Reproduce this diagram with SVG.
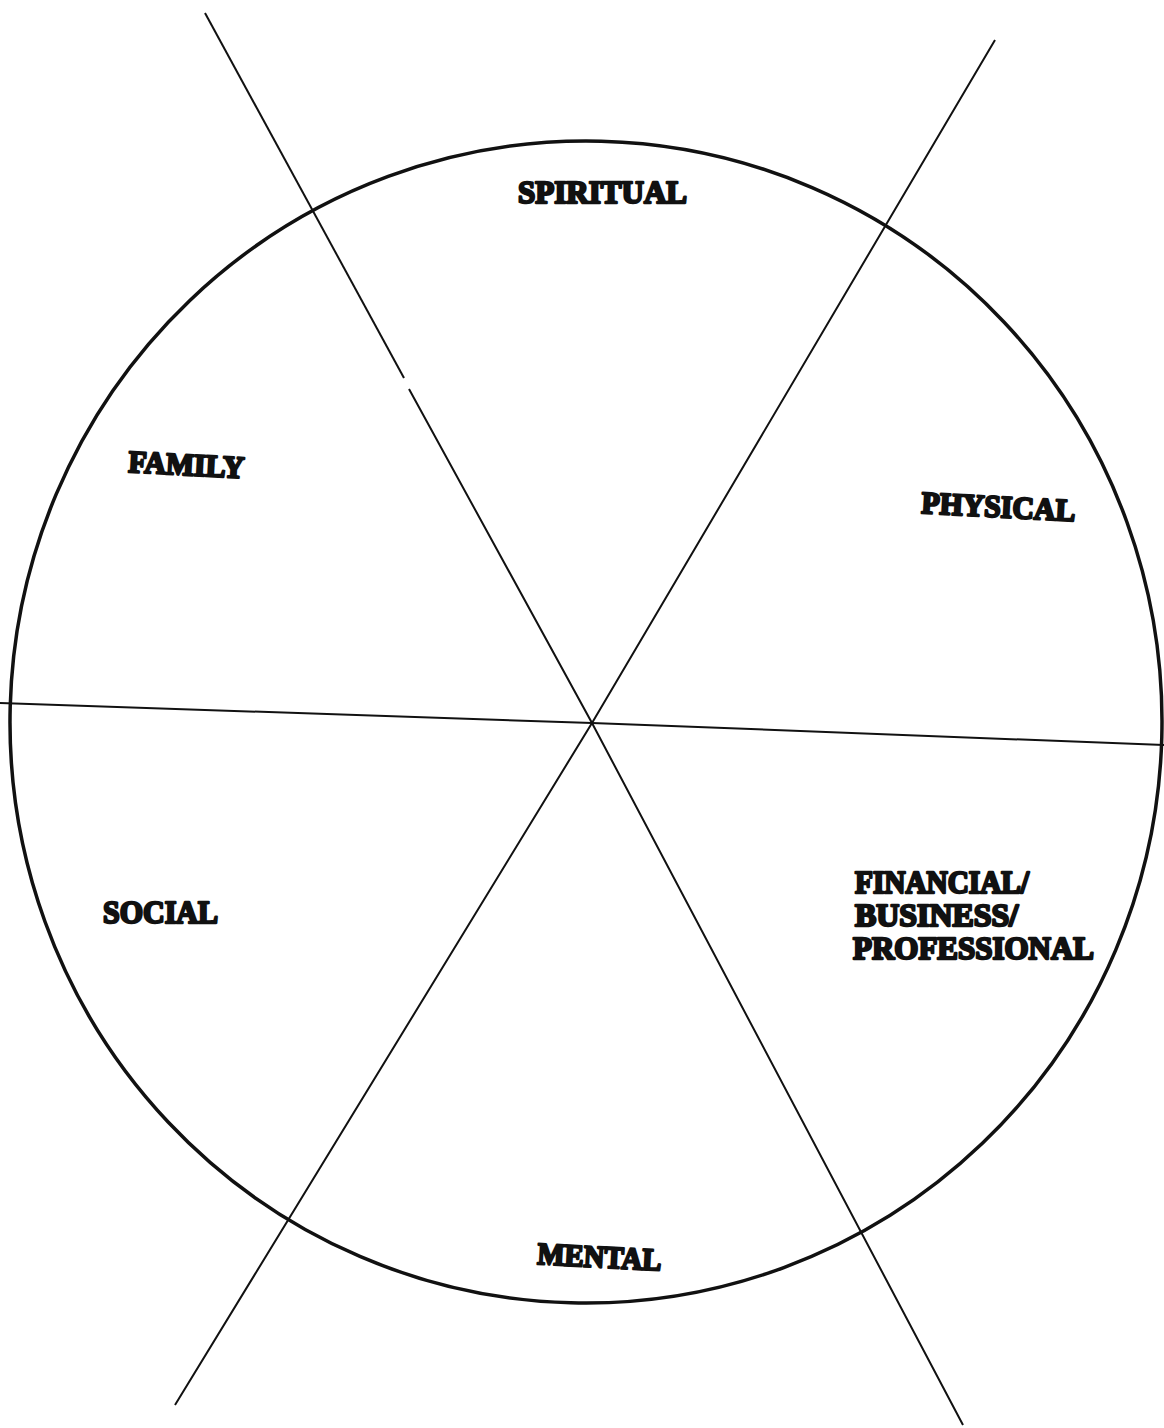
<svg xmlns="http://www.w3.org/2000/svg" width="1164" height="1428" viewBox="0 0 1164 1428">
<style>
.lbl{font-family:"Liberation Serif","DejaVu Serif",serif;font-weight:bold;font-size:31px;fill:#111;stroke:#111;stroke-width:2.4px;stroke-linejoin:round;}
.ln{stroke:#111;stroke-width:2;fill:none;}
</style>
<rect width="1164" height="1428" fill="#fff"/>
<g id="wheel">
<ellipse cx="586" cy="722" rx="576" ry="581" fill="none" stroke="#111" stroke-width="3.5" transform="rotate(1.5 586 722)"/>
</g>
<g id="connectors">
<polyline class="ln" points="205,13 404,378"/>
<polyline class="ln" points="409,389 592,723 963,1425"/>
<polyline class="ln" points="995,40 592,723 175,1405"/>
<polyline class="ln" points="0,703 592,723 1164,745" stroke-width="2.5"/>
</g>
<g id="spiritual"><text class="lbl" x="518" y="203" textLength="169" lengthAdjust="spacingAndGlyphs">SPIRITUAL</text></g>
<g id="family"><text class="lbl" x="128" y="472" textLength="116" lengthAdjust="spacingAndGlyphs" transform="rotate(3 128 472)">FAMILY</text></g>
<g id="physical"><text class="lbl" x="921" y="513" textLength="154" lengthAdjust="spacingAndGlyphs" transform="rotate(3 921 513)">PHYSICAL</text></g>
<g id="social"><text class="lbl" x="103" y="923" textLength="115" lengthAdjust="spacingAndGlyphs">SOCIAL</text></g>
<g id="financial">
<text class="lbl" x="855" y="893" textLength="174" lengthAdjust="spacingAndGlyphs">FINANCIAL/</text>
<text class="lbl" x="855" y="926" textLength="163" lengthAdjust="spacingAndGlyphs">BUSINESS/</text>
<text class="lbl" x="853" y="959" textLength="241" lengthAdjust="spacingAndGlyphs">PROFESSIONAL</text>
</g>
<g id="mental"><text class="lbl" x="537" y="1264" textLength="124" lengthAdjust="spacingAndGlyphs" transform="rotate(3 537 1264)">MENTAL</text></g>
</svg>
